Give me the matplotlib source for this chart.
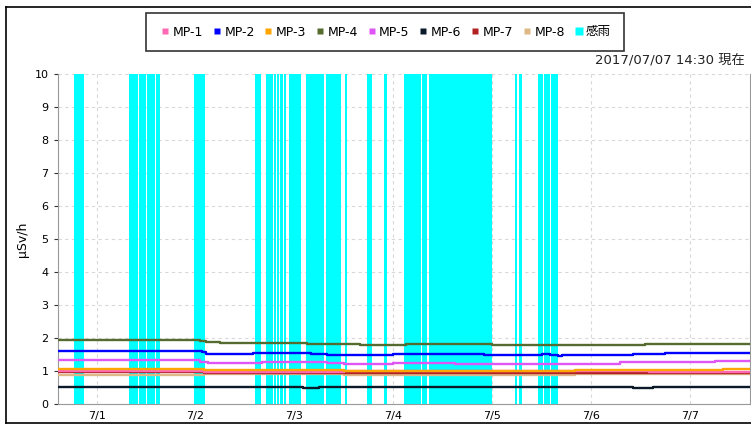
import pandas as pd
import matplotlib
matplotlib.use('Agg')
import matplotlib.pyplot as plt
import matplotlib.dates as mdates
from matplotlib.lines import Line2D

# ---- data ----
START = "06-30 14:30"
END = "07-07 14:30"

# rain (感雨) periods: start, end
rain_start = ["06-30 18:30", "07-01 07:50", "07-01 10:15", "07-01 12:10", "07-01 14:20",
              "07-01 23:30", "07-02 14:30", "07-02 17:05", "07-02 19:00", "07-02 19:45",
              "07-02 20:35", "07-02 21:25", "07-02 22:45", "07-03 02:40", "07-03 07:40",
              "07-03 12:15", "07-03 17:35", "07-03 21:45", "07-04 02:35", "07-04 06:50",
              "07-04 08:40", "07-05 05:25", "07-05 06:25", "07-05 11:00", "07-05 12:35",
              "07-05 14:10"]
rain_end = ["06-30 20:50", "07-01 10:00", "07-01 12:00", "07-01 14:05", "07-01 15:15",
            "07-02 02:20", "07-02 15:45", "07-02 18:45", "07-02 19:30", "07-02 20:20",
            "07-02 21:10", "07-02 21:50", "07-03 01:35", "07-03 07:15", "07-03 11:15",
            "07-03 12:45", "07-03 18:55", "07-03 22:25", "07-04 06:35", "07-04 08:15",
            "07-04 23:55", "07-05 06:00", "07-05 07:05", "07-05 12:20", "07-05 13:55",
            "07-05 15:50"]

mp1_t = [START, "07-02 02:00", "07-03 12:00", "07-05 20:00", "07-06 14:00", END]
mp1_v = [1.00, 0.97, 0.99, 1.00, 0.98, 0.98]

mp2_t = [START, "07-02 01:30", "07-02 02:30", "07-02 07:00", "07-02 14:00", "07-02 20:00",
         "07-03 04:00", "07-03 08:00", "07-03 12:00", "07-03 16:00", "07-04 00:00",
         "07-04 12:00", "07-04 22:00", "07-05 12:00", "07-05 14:00", "07-05 16:00",
         "07-05 17:00", "07-06 10:00", "07-06 18:00", END]
mp2_v = [1.61, 1.57, 1.52, 1.53, 1.56, 1.55, 1.52, 1.49, 1.48, 1.50, 1.52,
         1.51, 1.49, 1.51, 1.47, 1.45, 1.47, 1.53, 1.54, 1.54]

mp3_t = [START, "07-02 02:00", "07-03 12:00", "07-05 20:00", "07-07 08:00", END]
mp3_v = [1.07, 1.02, 1.01, 1.04, 1.07, 1.07]

mp4_t = [START, "07-02 01:00", "07-02 02:30", "07-02 06:00", "07-02 14:00", "07-03 03:00",
         "07-03 10:00", "07-03 16:00", "07-04 03:00", "07-04 08:00", "07-05 00:00",
         "07-05 12:00", "07-05 17:00", "07-06 13:00", END]
mp4_v = [1.93, 1.92, 1.87, 1.85, 1.86, 1.83, 1.81, 1.80, 1.82, 1.81, 1.79,
         1.78, 1.79, 1.83, 1.83]

mp5_t = [START, "07-02 01:00", "07-02 03:00", "07-02 16:00", "07-03 00:00", "07-03 08:00",
         "07-03 12:00", "07-04 00:00", "07-04 15:00", "07-05 02:00", "07-06 07:00",
         "07-07 06:00", END]
mp5_v = [1.32, 1.28, 1.24, 1.28, 1.26, 1.23, 1.21, 1.23, 1.20, 1.22, 1.26, 1.30, 1.30]

mp6_t = [START, "07-03 00:00", "07-03 02:00", "07-03 06:00", "07-04 12:00", "07-05 00:00",
         "07-05 20:00", "07-06 10:00", "07-06 15:00", END]
mp6_v = [0.53, 0.53, 0.50, 0.51, 0.53, 0.52, 0.53, 0.50, 0.53, 0.53]

mp7_t = [START, "07-02 02:00", "07-06 13:00", END]
mp7_v = [0.97, 0.95, 0.93, 0.93]

mp8_t = [START, "07-02 02:00", "07-02 04:00", "07-03 12:00", "07-05 20:00", END]
mp8_v = [0.89, 0.92, 0.91, 0.89, 0.90, 0.90]

names = ["MP-1", "MP-2", "MP-3", "MP-4", "MP-5", "MP-6", "MP-7", "MP-8"]
colors = ["#ff69b4", "#0000ff", "#ffa500", "#556b2f", "#e055f5", "#0a1a28", "#b22222", "#deb887"]
series = [(mp1_t, mp1_v), (mp2_t, mp2_v), (mp3_t, mp3_v), (mp4_t, mp4_v),
          (mp5_t, mp5_v), (mp6_t, mp6_v), (mp7_t, mp7_v), (mp8_t, mp8_v)]
RAIN_COLOR = "#00ffff"


def ts(s):
    return pd.to_datetime("2017-" + s, format="%Y-%m-%d %H:%M")


plt.rcParams['font.family'] = ['DejaVu Sans', 'Noto Sans CJK JP']

fig = plt.figure(figsize=(7.51, 4.26), dpi=100)
ax = fig.add_axes([57.5 / 751, 22 / 426, (750 - 57.5) / 751, 330 / 426])

for a, b in zip(rain_start, rain_end):
    ax.axvspan(ts(a), ts(b), color=RAIN_COLOR, lw=0, zorder=1)

# draw order: tan/red/pink below orange
order = [7, 6, 0, 2, 4, 1, 3, 5]
for i in order:
    t, v = series[i]
    ax.plot([ts(x) for x in t], v, drawstyle='steps-post', color=colors[i], lw=1.7, zorder=3)

ax.set_xlim(ts(START), ts(END))
ax.set_ylim(0, 10)
ax.set_yticks(range(0, 11))
ax.xaxis.set_major_locator(mdates.DayLocator())
ax.xaxis.set_major_formatter(mdates.DateFormatter('%-m/%-d'))
ax.grid(True, color='#d8d8d8', ls=(0, (3, 3)), lw=0.8, zorder=0)
ax.set_axisbelow(True)
ax.spines['top'].set_visible(False)
for s in ['left', 'bottom', 'right']:
    ax.spines[s].set_color('#999999')
ax.tick_params(axis='both', labelsize=8, colors='#333333', length=3, width=0.8)
ax.tick_params(axis='x', pad=5, length=0)
for lab in ax.get_xticklabels() + ax.get_yticklabels():
    lab.set_color('black')
ax.set_ylabel('μSv/h', fontsize=9, labelpad=4)

fig.text(745 / 751, 1 - 60 / 426, '2017/07/07 14:30 現在', ha='right', va='center', fontsize=9.5,
         color='#222222')

handles = [Line2D([], [], ls='none', marker='s', ms=5, mec='none', mfc=c) for c in colors]
handles.append(Line2D([], [], ls='none', marker='s', ms=6, mec='none', mfc=RAIN_COLOR))
leg = fig.legend(handles, names + ['感雨'], loc='center', ncol=9,
                 bbox_to_anchor=(385 / 751, 1 - 32 / 426), fontsize=9, frameon=True,
                 fancybox=False, handletextpad=0.1, columnspacing=0.6, handlelength=1.0,
                 borderpad=1.0, borderaxespad=0)
leg.get_frame().set_edgecolor('black')
leg.get_frame().set_linewidth(1.2)

# outer frame
fig.add_artist(Line2D([6.5 / 751, 6.5 / 751], [3 / 426, 1 - 6.5 / 426], color='black', lw=1.2))
fig.add_artist(Line2D([6.5 / 751, 1.0], [1 - 6.5 / 426, 1 - 6.5 / 426], color='black', lw=1.2))
fig.add_artist(Line2D([6.5 / 751, 1.0], [3 / 426, 3 / 426], color='black', lw=1.2))

fig.savefig('out.png', dpi=100)
